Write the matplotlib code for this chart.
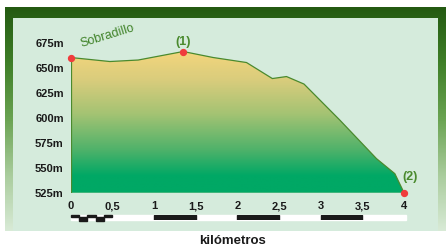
import numpy as np
import matplotlib.pyplot as plt
from matplotlib.colors import LinearSegmentedColormap
from matplotlib.patches import Rectangle

# profile data (km, m)
km = [0, 0.47, 0.81, 1.35, 1.71, 2.11, 2.42, 2.59, 2.80, 3.23, 3.67, 3.89, 4.0]
elev = [660, 656, 657.5, 666, 660, 655, 639, 641, 633.5, 597.5, 559, 544, 525]
yticks = [525, 550, 575, 600, 625, 650, 675]
xticks = [0, 0.5, 1, 1.5, 2, 2.5, 3, 3.5, 4]
xlabels = ['0', '0,5', '1', '1,5', '2', '2,5', '3', '3,5', '4']
marks = [(0, 660), (1.35, 666), (4.0, 525)]

W, H = 446, 246
fig = plt.figure(figsize=(W/100, H/100), dpi=100)
fig.patch.set_facecolor('white')
plt.rcParams['font.family'] = ['Liberation Sans', 'DejaVu Sans']

def fa(x0, y0, x1, y1):
    # pixel box (top-left origin) -> figure axes rect
    return [x0/W, 1-y1/H, (x1-x0)/W, (y1-y0)/H]

# green frame
bg = fig.add_axes(fa(5, 7, 446, 231)); bg.axis('off')
fcm = LinearSegmentedColormap.from_list('f', ['#245a12', '#3f7f28', '#6aa352', '#a9cc9c', '#d8ead6'])
bg.imshow(np.linspace(0, 1, 200)[:, None], aspect='auto', cmap=fcm, extent=[0, 1, 0, 1])
bg.set_xlim(0, 1); bg.set_ylim(0, 1)
pn = fig.add_axes(fa(13, 18, 438, 231)); pn.axis('off')
pn.add_patch(Rectangle((0, 0), 1, 1, color='#d5ebdc'))
pn.set_xlim(0, 1); pn.set_ylim(0, 1)

ax = fig.add_axes(fa(70.7, 42.5, 404, 192.7))
ax.set_xlim(0, 4); ax.set_ylim(525, 675)
ax.patch.set_alpha(0)
for s in ax.spines.values():
    s.set_visible(False)

gcm = LinearSegmentedColormap.from_list('g', [(0, '#00a865'), (0.12, '#00a865'), (0.3, '#4fb26a'),
                                              (0.55, '#a4c373'), (0.78, '#d8cc7c'), (1, '#f6d67c')])
img = ax.imshow(np.linspace(0, 1, 256)[:, None], aspect='auto', cmap=gcm,
                extent=[0, 4, 525, 668], origin='lower', zorder=1)
clip = plt.Polygon(list(zip(km, elev)) + [(4, 525), (0, 525)], closed=True, transform=ax.transData)
img.set_clip_path(clip)
ax.plot(km, elev, color='#4a8a2e', lw=0.9, zorder=3)
ax.plot([0, 0], [525, 660], color='#4a8a2e', lw=0.9, zorder=3)
ax.plot([0, 4], [525, 525], color='#4a8a2e', lw=0.9, zorder=3)
ax.scatter([m[0] for m in marks], [m[1] for m in marks], s=18, color='#f03c3c', zorder=4, clip_on=False)

ax.set_yticks(yticks)
ax.set_yticklabels([f'{v}m' for v in yticks], fontsize=8, fontweight='bold', color='#1a1a1a')
ax.set_xticks(xticks)
ax.set_xticklabels(xlabels, fontsize=8, fontweight='bold', color='#1a1a1a')
ax.tick_params(length=0, pad=6)
ax.tick_params(axis='y', pad=5)

ax.text(0.1, 668, 'Sobradillo', rotation=17, color='#3f8228', fontsize=9,
        ha='left', va='bottom')
ax.text(1.35, 670, '(1)', color='#4a8a2e', fontsize=9, fontweight='bold', ha='center', va='bottom')
ax.text(4.07, 541, '(2)', color='#4a8a2e', fontsize=9, fontweight='bold', ha='center', va='center', clip_on=False)

# scale bar
sb = fig.add_axes(fa(70.7, 214.5, 404, 219.5))
sb.set_xlim(0, 4); sb.set_ylim(0, 1); sb.axis('off')
sb.add_patch(Rectangle((0, 0), 4.02, 1, color='white', clip_on=False))
for a in [1, 2, 3]:
    sb.add_patch(Rectangle((a, 0), 0.5, 1, color='#1a1a1a'))
for i in range(5):
    sb.add_patch(Rectangle((i*0.1, 0.5 if i % 2 == 0 else -0.2), 0.1, 0.5 if i % 2 == 0 else 0.7,
                           color='#1a1a1a', clip_on=False))

fig.text(233/W, 1-241/H, 'kilómetros', fontsize=9.5, fontweight='bold', ha='center', va='center', color='#1a1a1a')

fig.savefig('out.png', dpi=100)
